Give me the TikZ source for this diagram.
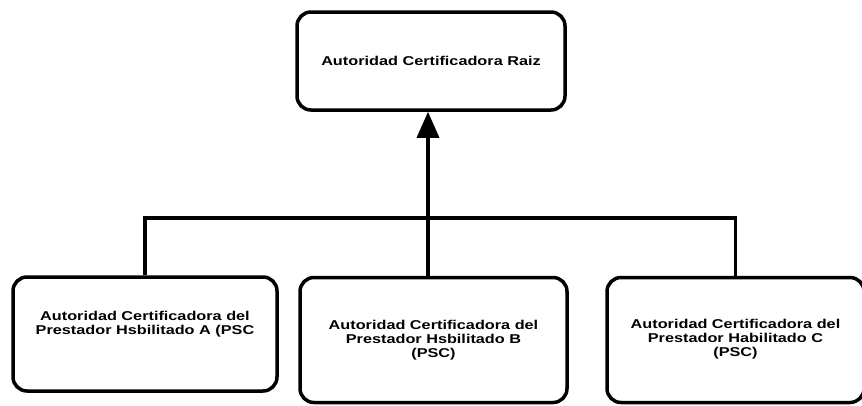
\documentclass[tikz,border=0pt]{standalone}
\usepackage{fontspec}
\setmainfont{Liberation Sans}[FakeStretch=1.27]
\usetikzlibrary{arrows.meta}
\begin{document}
\begin{tikzpicture}[x=1pt,y=-1pt,
  box/.style={draw=black, line width=3.5pt, rounded corners=14pt, inner sep=0pt,
    align=center, font=\fontsize{12.8}{14}\selectfont\bfseries, text=black},
  link/.style={draw=black, line width=3.2pt},
  up/.style={link, -{Triangle[width=22pt,length=26pt]}}]
\useasboundingbox (0,0) rectangle (862,405);
\node[box, minimum width=268pt, minimum height=98pt] (top) at (431,61) {Autoridad Certificadora Raiz};
\node[box, minimum width=264pt, minimum height=114pt] (lft) at (145,334) {Autoridad Certificadora del\\Prestador Hsbilitado A (PSC\\[8pt]};
\node[box, minimum width=267pt, minimum height=125pt] (mid) at (433.5,340) {Autoridad Certificadora del\\Prestador Hsbilitado B\\(PSC)};
\node[box, minimum width=257pt, minimum height=125pt] (rgt) at (735.5,340) {\\[-6pt]Autoridad Certificadora del\\Prestador Habilitado C\\(PSC)};
\coordinate (hub) at (428,218);
\draw[up] (hub |- mid.north) -- (hub |- top.south);
\draw[link] (lft.north) |- (hub) -| (rgt.north);
\end{tikzpicture}
\end{document}
